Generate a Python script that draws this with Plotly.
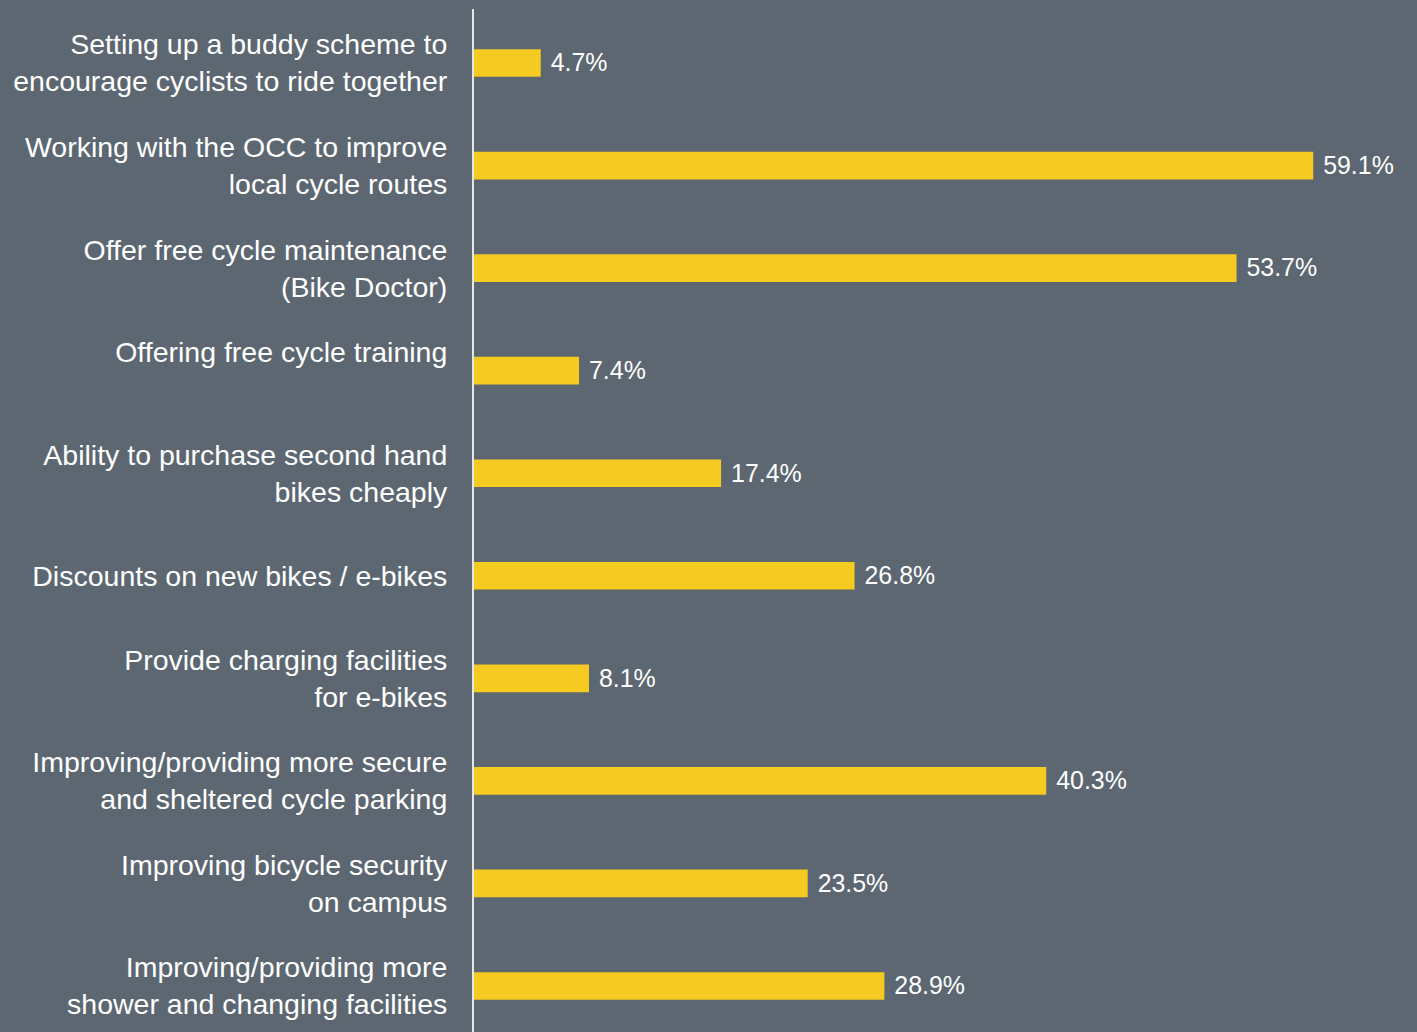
import plotly.graph_objects as go

categories = [
    "Setting up a buddy scheme to<br>encourage cyclists to ride together",
    "Working with the OCC to improve<br>local cycle routes",
    "Offer free cycle maintenance<br>(Bike Doctor)",
    "Offering free cycle training<br> ",
    "Ability to purchase second hand<br>bikes cheaply",
    "Discounts on new bikes / e-bikes",
    "Provide charging facilities<br>for e-bikes",
    "Improving/providing more secure<br>and sheltered cycle parking",
    "Improving bicycle security<br>on campus",
    "Improving/providing more<br>shower and changing facilities",
]
values = [4.7, 59.1, 53.7, 7.4, 17.4, 26.8, 8.1, 40.3, 23.5, 28.9]
value_labels = ["4.7%", "59.1%", "53.7%", "7.4%", "17.4%", "26.8%", "8.1%", "40.3%", "23.5%", "28.9%"]

BG = "#5c6771"
BAR = "#f5ca21"
FONT = "Liberation Sans, Arial, Helvetica, sans-serif"

fig = go.Figure(
    go.Bar(
        x=values,
        y=categories,
        orientation="h",
        marker=dict(color=BAR, line=dict(width=0)),
        width=0.27,
        text=[" " + t for t in value_labels],
        textposition="outside",
        textfont=dict(color="white", size=27, family=FONT),
        cliponaxis=False,
        hoverinfo="skip",
    )
)

fig.update_layout(
    width=1417,
    height=1032,
    paper_bgcolor=BG,
    plot_bgcolor=BG,
    margin=dict(l=474, r=0, t=9, b=0),
    showlegend=False,
    font=dict(family=FONT, color="white"),
)
fig.update_xaxes(
    range=[0, 943 / 14.2],
    showgrid=False,
    zeroline=False,
    showticklabels=False,
    showline=False,
)
fig.update_yaxes(
    type="category",
    range=[9.4485, -0.5265],
    showgrid=False,
    zeroline=False,
    showline=True,
    linecolor="#e6e6e6",
    linewidth=2,
    ticks="",
    ticklabelstandoff=19,
    tickfont=dict(size=28.5, color="white", family=FONT),
)

fig.write_html(
    "out.html",
    config={"displayModeBar": False},
    post_script="document.body.style.margin='0';document.body.style.background='" + BG + "';",
)
